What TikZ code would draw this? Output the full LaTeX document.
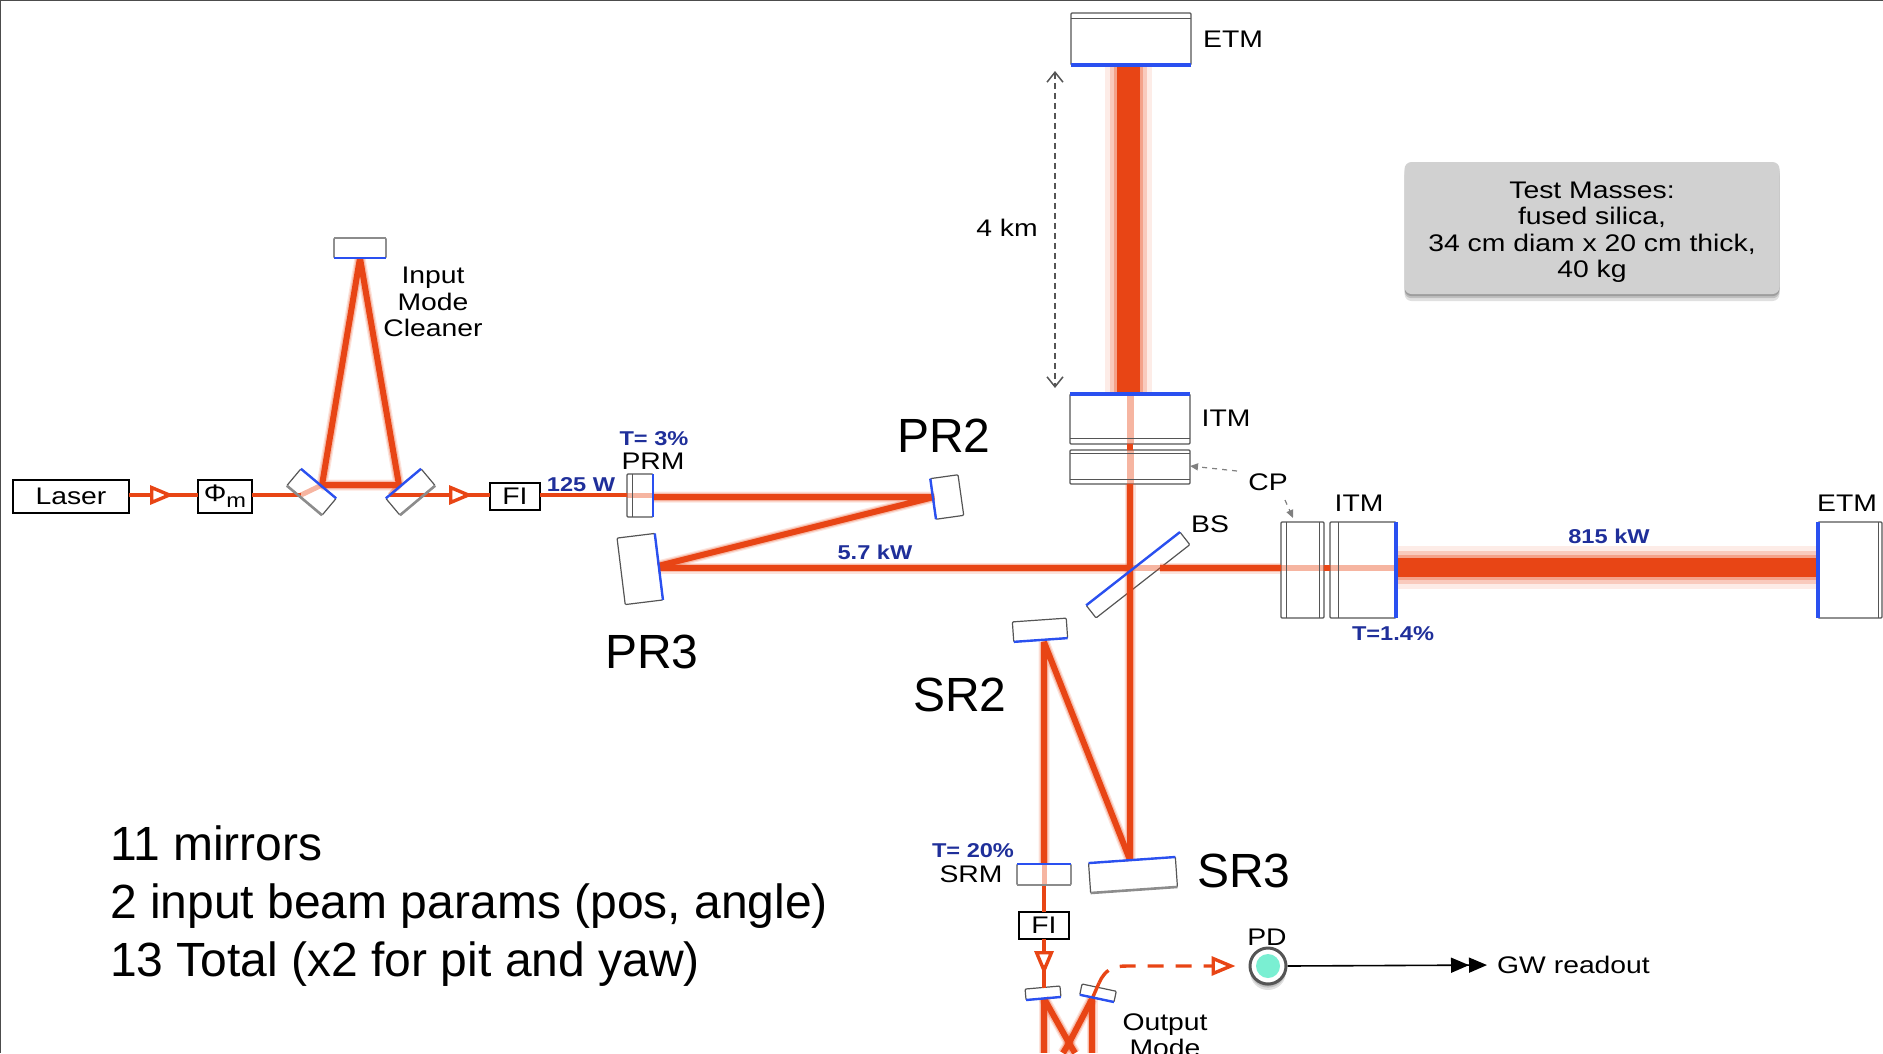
\documentclass[tikz,border=0pt]{standalone}
\usepackage{fontspec}
\setmainfont{Liberation Sans}
\newfontfamily\figfont[FakeStretch=1.18]{Liberation Sans}
\usetikzlibrary{arrows.meta,calc,shadows}
\definecolor{beamred}{HTML}{E84515}
\definecolor{coatblue}{HTML}{2A50F0}
\definecolor{labelblue}{HTML}{1F2F9A}
\definecolor{edgegray}{HTML}{555555}
\definecolor{pdteal}{HTML}{7AEFD2}
\tikzset{
  mirror/.style={draw=edgegray,line width=1.2pt,rounded corners=1pt,inner sep=0pt,outer sep=0pt},
  optbox/.style={draw=black,line width=1.6pt,inner sep=0pt,outer sep=0pt,font=\figfont\fontsize{24}{28}\selectfont},
  coat/.style={draw=coatblue,line width=2.4pt},
  coatthick/.style={draw=coatblue,line width=4.5pt},
  inner_line/.style={draw=edgegray,line width=1pt},
  back_line/.style={draw=black!45,line width=2.6pt},
  beam/.style={draw=beamred,line width=6pt,line join=bevel,
    preaction={draw=beamred,line join=bevel,line width=11pt,opacity=.15},preaction={draw=beamred,line join=bevel,line width=8.5pt,opacity=.25}},
  beam_thin/.style={draw=beamred,line width=3.4pt},
  beam_pale/.style={draw=beamred,line width=5pt,opacity=.4},
  beam_arm/.style={draw=beamred,line width=#1pt,
    preaction={draw=beamred,line width=#1pt+24pt,opacity=.1},preaction={draw=beamred,line width=#1pt+14pt,opacity=.2},preaction={draw=beamred,line width=#1pt+6pt,opacity=.3}},
  open_tip/.style={-{Triangle[open,fill=white,length=24pt,width=19pt,line width=3.4pt]}},
  tail/.style={shorten <=-10pt},
  small_text/.style={font=\figfont\fontsize{24}{26.5}\selectfont,inner sep=0pt,align=center},
  blue_text/.style={font=\figfont\bfseries\fontsize{20}{22}\selectfont,text=labelblue,inner sep=0pt},
  big_text/.style={font=\fontsize{48}{57}\selectfont,inner sep=0pt},
  soft_shadow/.style={
    drop shadow={shadow xshift=0pt,shadow yshift=-#1pt,fill=black,opacity=.12},
    drop shadow={shadow xshift=0pt,shadow yshift=-#1pt*.6,fill=black,opacity=.15},
    drop shadow={shadow xshift=0pt,shadow yshift=-#1pt*.3,fill=black,opacity=.18}},
}
\begin{document}
\begin{tikzpicture}[x=1pt,y=-1pt]
\clip (0,0) rectangle (1883,1053);
\draw[line width=2pt,black!70] (0,1053)--(0,0)--(1883,0);

\def\beamy{495};\def\armx{1130};\def\army{568};\def\srx{1044};

\coordinate (imc_a) at (322,485);
\coordinate (imc_b) at (399,485);
\coordinate (imc_in) at (301,\beamy);
\coordinate (imc_out) at (390,\beamy);
\coordinate (tip_1) at (174,\beamy);
\coordinate (tip_2) at (473,\beamy);
\coordinate (tip_3) at (\srx,975);
\coordinate (pr2_hit) at (934,497);
\coordinate (pr3_hit) at (658,566);
\coordinate (bs_hit) at (\armx,\army);
\coordinate (bs_back) at (1160,\army);
\coordinate (sr2_hit) at (1044,642);
\coordinate (sr3_hit) at (\armx,860);
\coordinate (om_cross) at (1069,1043);
\coordinate (om_hit) at (1092,999);
\coordinate (om_turn) at (1099,983);
\coordinate (arrow_top) at (1055,71);
\coordinate (arrow_bot) at (1055,388);
\coordinate (cp_y_tail) at (1237,471);
\coordinate (cp_x_tail) at (1285,500);
\coordinate (cp_x_head) at (1293,518);

% mirrors
\node[mirror,minimum width=52pt,minimum height=20pt] (mc_top) at (360,248) {};
\node[mirror,minimum width=46pt,minimum height=22pt,rotate=-40] (mc_left) at (311.5,492) {};
\node[mirror,minimum width=46pt,minimum height=22pt,rotate=40] (mc_right) at (410.5,492) {};
\node[mirror,minimum width=26pt,minimum height=43pt] (prm) at (640,495.5) {};
\node[mirror,minimum width=28pt,minimum height=41pt,rotate=8] (pr2) at (947,497) {};
\node[mirror,minimum width=38pt,minimum height=67pt,rotate=7] (pr3) at (640,569) {};
\node[mirror,minimum width=119pt,minimum height=16pt,rotate=38] (bs) at (1138,575) {};
\node[mirror,minimum width=54pt,minimum height=20pt,rotate=4] (sr2) at (1040,630) {};
\node[mirror,minimum width=54pt,minimum height=21pt] (srm) at (\srx,874.5) {};
\node[mirror,minimum width=87pt,minimum height=30pt,rotate=4] (sr3) at (1133,875) {};
\node[mirror,minimum width=35pt,minimum height=11pt,rotate=5] (om_left) at (1043,993) {};
\node[mirror,minimum width=35pt,minimum height=11pt,rotate=-12] (om_right) at (1098,993) {};
\node[mirror,minimum width=120pt,minimum height=52pt] (etm_y) at (1131,39) {};
\node[mirror,minimum width=120pt,minimum height=50pt] (itm_y) at (\armx,419) {};
\node[mirror,minimum width=120pt,minimum height=34pt] (cp_y) at (\armx,467) {};
\node[mirror,minimum width=43pt,minimum height=96pt] (cp_x) at (1302.5,570) {};
\node[mirror,minimum width=66pt,minimum height=96pt] (itm_x) at (1363,570) {};
\node[mirror,minimum width=64pt,minimum height=96pt] (etm_x) at (1850,570) {};

% boxes
\node[optbox,minimum width=116pt,minimum height=33pt] (laser) at (71,496.5) {Laser};
\node[optbox,minimum width=54pt,minimum height=33pt] (phi) at (225,496.5) {Φ\raisebox{-6pt}{\fontsize{20}{20}\selectfont m}};
\node[optbox,minimum width=50pt,minimum height=27pt] (fi_in) at (515,496.5) {FI};
\node[optbox,minimum width=50pt,minimum height=27pt] (fi_out) at (\srx,925.5) {FI};

% input beam
\draw[beam_thin,open_tip] (laser.east|-tip_1)--(tip_1);
\draw[beam_thin,tail] (tip_1)--(phi.west|-tip_1);
\draw[beam_thin] (phi.east|-imc_in)--(imc_in);
\draw[beam_pale] (imc_in)--(imc_a);
\draw[beam] (imc_a)--(mc_top.south)--(imc_b)--cycle;
\draw[beam_pale] (imc_b)--(imc_out);
\draw[beam_thin,open_tip] (imc_out)--(tip_2);
\draw[beam_thin,tail] (tip_2)--(fi_in.west|-tip_2);
\draw[beam_thin] (fi_in.east|-tip_2)--(prm.west|-tip_2);
\draw[beam_pale] (prm.west|-tip_2)--(prm.east|-tip_2);

% recycling cavity
\draw[beam] (prm.east|-pr2_hit)--(pr2_hit)--(pr3_hit);
\draw[beam] (pr3_hit|-bs_hit)--(bs_hit);
\draw[beam_pale,line width=6pt] (bs_hit)--(bs_back);
\draw[beam,line width=5.5pt] (bs_back)--(cp_x.west|-bs_hit);
\draw[beam_pale,line width=6pt] (cp_x.west|-bs_hit)--(cp_x.east|-bs_hit);
\draw[beam_thin,line width=6pt] (cp_x.east|-bs_hit)--(itm_x.west|-bs_hit);
\draw[beam_pale,line width=6pt] (itm_x.west|-bs_hit)--(itm_x.east|-bs_hit);
\draw[beam,line width=6pt] (bs_hit)--(cp_y.south-|bs_hit);
\draw[beam_pale,line width=7pt] (cp_y.south-|bs_hit)--(cp_y.north-|bs_hit);
\draw[beam_thin,line width=6pt] (cp_y.north-|bs_hit)--(itm_y.south-|bs_hit);
\draw[beam_pale,line width=7pt] (itm_y.south-|bs_hit)--(itm_y.north-|bs_hit);

% arms
\draw[beam_arm=23] (etm_y.south-|1128.5,0)--(itm_y.north-|1128.5,0);
\draw[beam_arm=19] (itm_x.east|-0,567.5)--(etm_x.west|-0,567.5);

% signal recycling
\draw[beam] (bs_hit)--(sr3_hit)--(sr2_hit)--(srm.north-|sr2_hit);
\draw[beam_pale] (srm.north)--(srm.south);
\draw[beam_thin] (srm.south)--(fi_out.north);
\draw[beam_thin,open_tip] (fi_out.south)--(tip_3);
\draw[beam_thin,tail] (tip_3)--(om_left.north-|tip_3);
\draw[beam] (om_left.south-|tip_3)--(\srx,1053);
\draw[beam] (om_left.south-|tip_3)--(om_cross)--(1075,1053);
\draw[beam] (om_hit)--(om_cross)--(1063,1053);
\draw[beam] (om_hit)--(om_hit|-0,1053);
\draw[beam_thin] (om_hit)--(om_turn);

% coatings and second lines
\draw[coat] (mc_top.south west)--(mc_top.south east);
\draw[back_line] (mc_top.north west)--(mc_top.north east);
\draw[back_line] (mc_left.south west)--(mc_left.south east);
\draw[coat] (mc_left.north west)--(mc_left.north east);
\draw[back_line] (mc_right.south west)--(mc_right.south east);
\draw[coat] (mc_right.north west)--(mc_right.north east);
\draw[coat] (prm.north east)--(prm.south east);
\draw[inner_line] ($(prm.north west)+(5,0)$)--($(prm.south west)+(5,0)$);
\draw[coat] (pr2.north west)--(pr2.south west);
\draw[coat] (pr3.north east)--(pr3.south east);
\draw[coat] (bs.north west)--(bs.north east);
\draw[coat] (sr2.south west)--(sr2.south east);
\draw[back_line] (srm.south west)--(srm.south east);
\draw[coat] (srm.north west)--(srm.north east);
\draw[back_line] (sr3.south west)--(sr3.south east);
\draw[coat] (sr3.north west)--(sr3.north east);
\draw[coat] (om_left.south west)--(om_left.south east);
\draw[coat] (om_right.south west)--(om_right.south east);
\draw[coatthick] (etm_y.south west)--(etm_y.south east);
\draw[inner_line] ($(etm_y.north west)+(0,5)$)--($(etm_y.north east)+(0,5)$);
\draw[coatthick] (itm_y.north west)--(itm_y.north east);
\draw[inner_line] ($(itm_y.south west)+(0,-6)$)--($(itm_y.south east)+(0,-6)$);
\draw[inner_line] ($(cp_y.south west)+(0,-5)$)--($(cp_y.south east)+(0,-5)$);
\draw[inner_line] ($(cp_y.north west)+(0,3)$)--($(cp_y.north east)+(0,3)$);
\draw[inner_line] ($(cp_x.north west)+(5,0)$)--($(cp_x.south west)+(5,0)$);
\draw[inner_line] ($(cp_x.north east)+(-5,0)$)--($(cp_x.south east)+(-5,0)$);
\draw[inner_line] ($(itm_x.north west)+(8,0)$)--($(itm_x.south west)+(8,0)$);
\draw[coatthick] (itm_x.north east)--(itm_x.south east);
\draw[coatthick] (etm_x.north west)--(etm_x.south west);
\draw[inner_line] ($(etm_x.north east)+(-4,0)$)--($(etm_x.south east)+(-4,0)$);

% readout
\node[circle,draw=edgegray,line width=3pt,fill=white,minimum size=36pt,inner sep=0pt,soft_shadow=6] (pd) at (1268,966) {};
\node[circle,fill=pdteal,minimum size=24pt,inner sep=0pt] (pd_in) at (pd) {};
\draw[beam_thin,dashed,dash pattern=on 16pt off 12pt,-{Triangle[open,fill=white,length=24pt,width=19pt,line width=3.4pt]},shorten >=13pt]
  (om_turn) .. controls (1105,970) and (1112,966) .. (1127,966)--(pd.west);
\node[small_text,anchor=west] (gw) at (1497,965) {GW readout};
\draw[black,line width=1.6pt,-{Triangle[length=18pt,width=15pt]Triangle[length=18pt,width=15pt]},shorten >=10pt] (pd.east)--(gw.west);

% distance and pick-off arrows
\draw[edgegray,line width=1.5pt,dash pattern=on 6pt off 4pt,{Straight Barb[length=10pt,width=16pt]}-{Straight Barb[length=10pt,width=16pt]}] (arrow_top)--(arrow_bot);
\draw[gray,line width=1.2pt,dash pattern=on 5pt off 5pt,-{Triangle[length=8pt,width=7pt]}] (cp_y_tail)--(cp_y.east|-0,466);
\draw[gray,line width=1.2pt,dash pattern=on 5pt off 5pt,-{Triangle[length=8pt,width=7pt]}] (cp_x_tail)--(cp_x_head);

% labels
\node[small_text] (mc_text) at (433,302) {Input\\Mode\\Cleaner};
\node[blue_text] (w125_text) at (581,485) {125 W};
\node[blue_text] (t3_text) at (654,439) {T= 3\%};
\node[small_text] (prm_text) at (653,461) {PRM};
\node[big_text] (pr2_text) at (944,436) {PR2};
\node[big_text] (pr3_text) at (652,652) {PR3};
\node[blue_text] (kw57_text) at (875,552) {5.7 kW};
\node[small_text] (bs_text) at (1210,524) {BS};
\node[small_text] (cp_text) at (1268,482) {CP};
\node[small_text] (etmy_text) at (1233,39) {ETM};
\node[small_text] (itmy_text) at (1226,418) {ITM};
\node[small_text] (km_text) at (1007,228) {4 km};
\node[small_text] (itmx_text) at (1359,503) {ITM};
\node[small_text] (etmx_text) at (1847,503) {ETM};
\node[blue_text] (kw815_text) at (1609,536) {815 kW};
\node[blue_text] (t14_text) at (1393,634) {T=1.4\%};
\node[big_text] (sr2_text) at (960,695) {SR2};
\node[big_text] (sr3_text) at (1244,871) {SR3};
\node[blue_text] (t20_text) at (973,851) {T= 20\%};
\node[small_text] (srm_text) at (971,874) {SRM};
\node[small_text] (pd_text) at (1267,937) {PD};
\node[small_text] (om_text) at (1165,1035) {Output\\Mode};

% material note
\node[fill=black!18,rounded corners=7pt,minimum width=375pt,minimum height=132pt,inner sep=0pt,soft_shadow=7] (note) at (1592,228) {};
\node[small_text] (note_text) at (1592,232) {Test Masses:\\fused silica,\\34 cm diam x 20 cm thick,\\40 kg};

\node[big_text,anchor=base west] (count_a) at (110,860) {11 mirrors};
\node[big_text,anchor=base west] (count_b) at (110,918) {2 input beam params (pos, angle)};
\node[big_text,anchor=base west] (count_c) at (110,976) {13 Total (x2 for pit and yaw)};
\end{tikzpicture}
\end{document}
